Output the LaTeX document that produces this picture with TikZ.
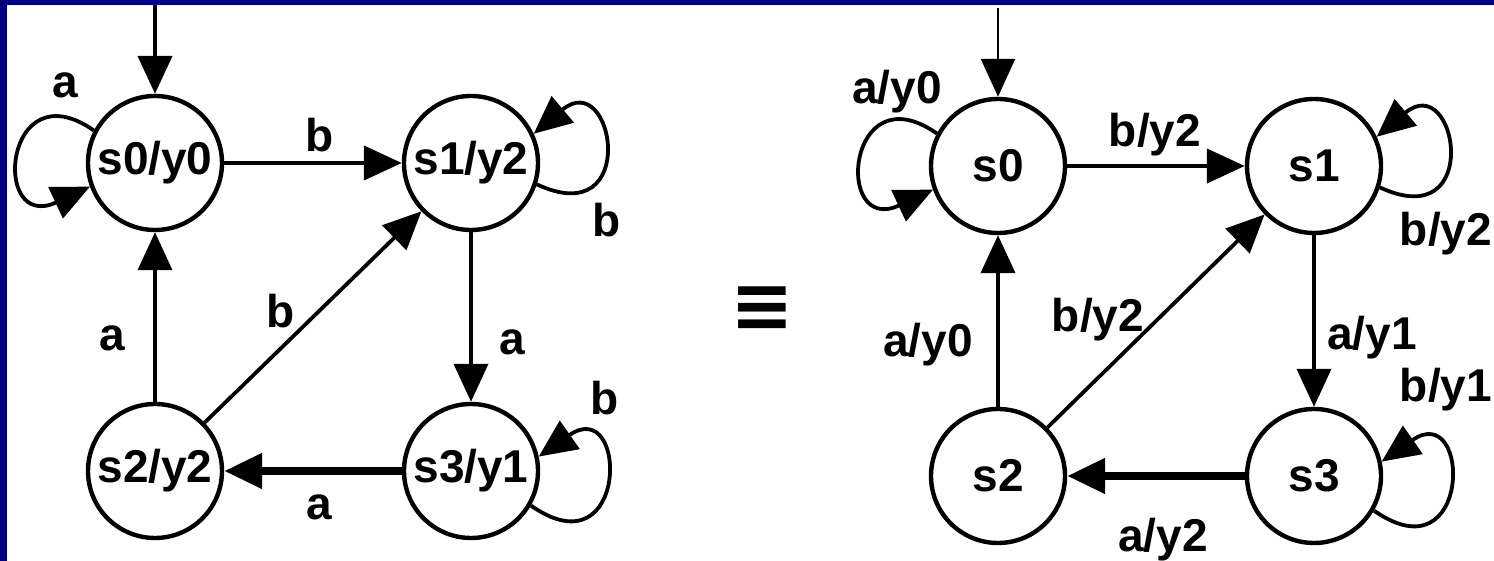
\documentclass[tikz,border=0pt]{standalone}
\usepackage{fontspec}
\setmainfont{Liberation Sans}
\newfontfamily\eqvfont{DejaVu Sans}
\usetikzlibrary{arrows.meta}
\definecolor{frame}{HTML}{00007F}

\begin{document}
\begin{tikzpicture}[x=0.5pt,y=0.5pt,font=\fontsize{23}{25}\selectfont\bfseries,
    state/.style={circle,draw,line width=2.2pt,minimum size=67pt,inner sep=0pt},
    edge/.style={line width=1.9pt,-{Triangle[length=19pt,width=17pt]}},
    lbl/.style={inner sep=0pt}]
  \useasboundingbox (0,0) rectangle (1494,561);
  \fill[frame] (0,556) rectangle (1494,561);
  \fill[frame] (0,0) rectangle (7,561);
  % Moore
  \node[state] (mo0) at (155,398) {s0/y0};
  \node[state] (mo1) at (471,398) {s1/y2};
  \node[state] (mo2) at (155,90) {s2/y2};
  \node[state] (mo3) at (471,90) {s3/y1};
  \coordinate (in0) at (155,556);
  \draw[edge,line width=2.2pt] (in0) -- (mo0);
  \draw[edge] (mo0.152) .. controls +(145:110) and +(205:110) .. (mo0.200);
  \draw[edge,line width=2.2pt] (mo0) -- (mo1);
  \draw[edge] (mo1.-18) .. controls +(-25:115) and +(40:105) .. (mo1.25);
  \draw[edge] (mo1) -- (mo3);
  \draw[edge] (mo3.-30) .. controls +(-35:120) and +(35:110) .. (mo3.12);
  \draw[edge,line width=4pt] (mo3) -- (mo2);
  \draw[edge] (mo2) -- (mo0);
  \draw[edge] (mo2) -- (mo1);
  \node[lbl] (la00) at (65,476) {a};
  \node[lbl] (lb01) at (320,426) {b};
  \node[lbl] (lb11) at (607,341) {b};
  \node[lbl] (la13) at (512,219) {a};
  \node[lbl] (lb21) at (281,250) {b};
  \node[lbl] (la20) at (112,223) {a};
  \node[lbl] (lb33) at (605,163) {b};
  \node[lbl] (la32) at (319,54) {a};
  \node[lbl] (eqv) at (762,252) {\eqvfont\fontsize{38}{38}\selectfont\bfseries ≡};
  % Mealy
  \node[state] (me0) at (998,395) {s0};
  \node[state] (me1) at (1314,395) {s1};
  \node[state] (me2) at (998,85) {s2};
  \node[state] (me3) at (1314,85) {s3};
  \coordinate (in1) at (998,553);
  \draw[edge,line width=1.2pt] (in1) -- (me0);
  \draw[edge] (me0.152) .. controls +(145:110) and +(205:110) .. (me0.200);
  \draw[edge,line width=2.2pt] (me0) -- (me1);
  \draw[edge] (me1.-18) .. controls +(-25:115) and +(40:105) .. (me1.25);
  \draw[edge] (me1) -- (me3);
  \draw[edge] (me3.-30) .. controls +(-35:120) and +(35:110) .. (me3.12);
  \draw[edge,line width=4pt] (me3) -- (me2);
  \draw[edge] (me2) -- (me0);
  \draw[edge] (me2) -- (me1);
  \node[lbl] (ma00) at (897,469) {a/y0};
  \node[lbl] (mb01) at (1155,426) {b/y2};
  \node[lbl] (mb11) at (1446,327) {b/y2};
  \node[lbl] (ma13) at (1372,223) {a/y1};
  \node[lbl] (mb21) at (1098,241) {b/y2};
  \node[lbl] (ma20) at (928,216) {a/y0};
  \node[lbl] (mb33) at (1446,171) {b/y1};
  \node[lbl] (ma32) at (1163,21) {a/y2};
\end{tikzpicture}
\end{document}
